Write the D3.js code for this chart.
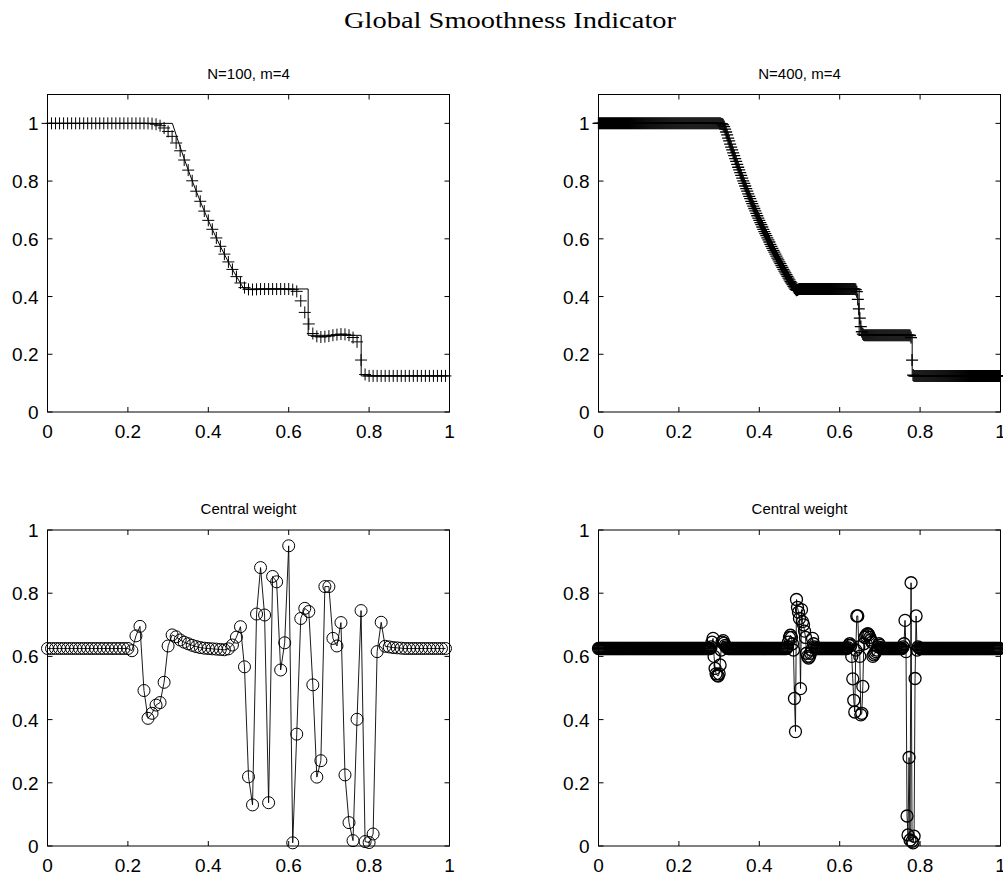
<!DOCTYPE html>
<html>
<head>
<meta charset="utf-8">
<script src="https://cdn.jsdelivr.net/npm/d3@7"></script>
<style>
  html, body { margin: 0; padding: 0; background: #fff; }
  svg { display: block; }
</style>
</head>
<body>
<svg id="fig" width="1003" height="876"></svg>
<script>
// ---- text ----
const figureTitle = "Global Smoothness Indicator";
const panelTitles = ["N=100, m=4", "N=400, m=4", "Central weight", "Central weight"];

// ---- tick values and labels ----
const xTickValues = [0, 0.2, 0.4, 0.6, 0.8, 1];
const xTickLabels = ["0", "0.2", "0.4", "0.6", "0.8", "1"];
const yTickValues = [0, 0.2, 0.4, 0.6, 0.8, 1];
const yTickLabels = ["0", "0.2", "0.4", "0.6", "0.8", "1"];

// ---- exact density profile (Sod tube, t = 0.16) ----
const exactX   = [0, 0.3107, 0.32, 0.33, 0.34, 0.35, 0.36, 0.37, 0.38, 0.39, 0.40, 0.41, 0.42, 0.43, 0.44, 0.45, 0.46, 0.47, 0.48, 0.4888, 0.6484, 0.6484, 0.7803, 0.7803, 1];
const exactRho = [1, 1, 0.9597, 0.9178, 0.8775, 0.8385, 0.8010, 0.7648, 0.7300, 0.6964, 0.6640, 0.6329, 0.6030, 0.5742, 0.5464, 0.5198, 0.4943, 0.4698, 0.4462, 0.4263, 0.4263, 0.2656, 0.2656, 0.125, 0.125];

// ---- computed density, N = 100 (cell i at x = i/N) ----
const rho100 = [
  1, 1, 1, 1, 1, 1, 1, 1, 1, 1, 1, 1, 1, 1, 1, 1, 1, 1, 1, 1,
  1, 1, 1, 1, 1, 1, 0.999, 0.997, 0.992, 0.984, 0.972, 0.955, 0.932, 0.905, 0.873, 0.838, 0.801, 0.765, 0.730, 0.696,
  0.664, 0.633, 0.603, 0.574, 0.547, 0.520, 0.494, 0.469, 0.447, 0.431, 0.425, 0.424, 0.425, 0.426, 0.426, 0.426, 0.426, 0.426, 0.426, 0.426,
  0.426, 0.424, 0.418, 0.385, 0.345, 0.305, 0.272, 0.262, 0.260, 0.261, 0.263, 0.266, 0.268, 0.270, 0.269, 0.266, 0.258, 0.243, 0.180, 0.130,
  0.125, 0.125, 0.125, 0.125, 0.125, 0.125, 0.125, 0.125, 0.125, 0.125, 0.125, 0.125, 0.125, 0.125, 0.125, 0.125, 0.125, 0.125, 0.125, 0.125
];

// ---- computed density, N = 400 ----
const rho400 = [
  1, 1, 1, 1, 1, 1, 1, 1, 1, 1, 1, 1, 1, 1, 1, 1, 1, 1, 1, 1,
  1, 1, 1, 1, 1, 1, 1, 1, 1, 1, 1, 1, 1, 1, 1, 1, 1, 1, 1, 1,
  1, 1, 1, 1, 1, 1, 1, 1, 1, 1, 1, 1, 1, 1, 1, 1, 1, 1, 1, 1,
  1, 1, 1, 1, 1, 1, 1, 1, 1, 1, 1, 1, 1, 1, 1, 1, 1, 1, 1, 1,
  1, 1, 1, 1, 1, 1, 1, 1, 1, 1, 1, 1, 1, 1, 1, 1, 1, 1, 1, 1,
  1, 1, 1, 1, 1, 1, 1, 1, 1, 1, 1, 1, 1, 1, 1, 1, 1, 1, 1, 1,
  1, 1, 0.999, 0.998, 0.995, 0.989, 0.980, 0.970, 0.960, 0.949, 0.939, 0.928, 0.918, 0.908, 0.898, 0.888, 0.878, 0.868, 0.858, 0.848,
  0.839, 0.829, 0.820, 0.810, 0.801, 0.792, 0.783, 0.774, 0.765, 0.756, 0.747, 0.739, 0.730, 0.722, 0.713, 0.705, 0.697, 0.688, 0.680, 0.672,
  0.664, 0.656, 0.649, 0.641, 0.633, 0.625, 0.618, 0.611, 0.603, 0.596, 0.589, 0.581, 0.574, 0.567, 0.560, 0.554, 0.547, 0.540, 0.533, 0.527,
  0.520, 0.514, 0.507, 0.501, 0.494, 0.488, 0.482, 0.476, 0.470, 0.464, 0.458, 0.452, 0.447, 0.441, 0.435, 0.430, 0.425, 0.422, 0.423, 0.425,
  0.426, 0.426, 0.426, 0.426, 0.426, 0.426, 0.426, 0.426, 0.426, 0.426, 0.426, 0.426, 0.426, 0.426, 0.426, 0.426, 0.426, 0.426, 0.426, 0.426,
  0.426, 0.426, 0.426, 0.426, 0.426, 0.426, 0.426, 0.426, 0.426, 0.426, 0.426, 0.426, 0.426, 0.426, 0.426, 0.426, 0.426, 0.426, 0.426, 0.426,
  0.426, 0.426, 0.426, 0.426, 0.426, 0.426, 0.426, 0.426, 0.426, 0.426, 0.426, 0.426, 0.426, 0.426, 0.426, 0.426, 0.424, 0.417, 0.390, 0.357,
  0.325, 0.296, 0.278, 0.270, 0.267, 0.266, 0.266, 0.266, 0.266, 0.266, 0.266, 0.266, 0.266, 0.266, 0.266, 0.266, 0.266, 0.266, 0.266, 0.266,
  0.266, 0.266, 0.266, 0.266, 0.266, 0.266, 0.266, 0.266, 0.266, 0.266, 0.266, 0.266, 0.266, 0.266, 0.266, 0.266, 0.266, 0.266, 0.266, 0.266,
  0.266, 0.266, 0.266, 0.266, 0.266, 0.266, 0.266, 0.266, 0.266, 0.266, 0.265, 0.258, 0.180, 0.128, 0.125, 0.125, 0.125, 0.125, 0.125, 0.125,
  0.125, 0.125, 0.125, 0.125, 0.125, 0.125, 0.125, 0.125, 0.125, 0.125, 0.125, 0.125, 0.125, 0.125, 0.125, 0.125, 0.125, 0.125, 0.125, 0.125,
  0.125, 0.125, 0.125, 0.125, 0.125, 0.125, 0.125, 0.125, 0.125, 0.125, 0.125, 0.125, 0.125, 0.125, 0.125, 0.125, 0.125, 0.125, 0.125, 0.125,
  0.125, 0.125, 0.125, 0.125, 0.125, 0.125, 0.125, 0.125, 0.125, 0.125, 0.125, 0.125, 0.125, 0.125, 0.125, 0.125, 0.125, 0.125, 0.125, 0.125,
  0.125, 0.125, 0.125, 0.125, 0.125, 0.125, 0.125, 0.125, 0.125, 0.125, 0.125, 0.125, 0.125, 0.125, 0.125, 0.125, 0.125, 0.125, 0.125, 0.125
];

// ---- central stencil weight, N = 100 ----
const weight100 = [
  0.625, 0.625, 0.625, 0.625, 0.625, 0.625, 0.625, 0.625, 0.625, 0.625, 0.625, 0.625, 0.625, 0.625, 0.625, 0.625, 0.625, 0.625, 0.625, 0.625,
  0.625, 0.618, 0.665, 0.695, 0.492, 0.404, 0.420, 0.446, 0.454, 0.518, 0.633, 0.668, 0.662, 0.652, 0.645, 0.640, 0.635, 0.631, 0.628, 0.626,
  0.625, 0.624, 0.623, 0.622, 0.621, 0.624, 0.636, 0.661, 0.694, 0.567, 0.219, 0.130, 0.734, 0.881, 0.731, 0.137, 0.853, 0.836, 0.557, 0.643,
  0.950, 0.010, 0.354, 0.720, 0.752, 0.742, 0.510, 0.218, 0.270, 0.821, 0.821, 0.657, 0.633, 0.707, 0.225, 0.074, 0.017, 0.401, 0.745, 0.014,
  0.011, 0.038, 0.615, 0.708, 0.632, 0.630, 0.628, 0.627, 0.626, 0.625, 0.625, 0.625, 0.625, 0.625, 0.625, 0.625, 0.625, 0.625, 0.625, 0.625
];

// ---- central stencil weight, N = 400 ----
const weight400 = [
  0.625, 0.625, 0.625, 0.625, 0.625, 0.625, 0.625, 0.625, 0.625, 0.625, 0.625, 0.625, 0.625, 0.625, 0.625, 0.625, 0.625, 0.625, 0.625, 0.625,
  0.625, 0.625, 0.625, 0.625, 0.625, 0.625, 0.625, 0.625, 0.625, 0.625, 0.625, 0.625, 0.625, 0.625, 0.625, 0.625, 0.625, 0.625, 0.625, 0.625,
  0.625, 0.625, 0.625, 0.625, 0.625, 0.625, 0.625, 0.625, 0.625, 0.625, 0.625, 0.625, 0.625, 0.625, 0.625, 0.625, 0.625, 0.625, 0.625, 0.625,
  0.625, 0.625, 0.625, 0.625, 0.625, 0.625, 0.625, 0.625, 0.625, 0.625, 0.625, 0.625, 0.625, 0.625, 0.625, 0.625, 0.625, 0.625, 0.625, 0.625,
  0.625, 0.625, 0.625, 0.625, 0.625, 0.625, 0.625, 0.625, 0.625, 0.625, 0.625, 0.625, 0.625, 0.625, 0.625, 0.625, 0.625, 0.625, 0.625, 0.625,
  0.625, 0.625, 0.625, 0.625, 0.625, 0.625, 0.625, 0.625, 0.625, 0.625, 0.625, 0.625, 0.630, 0.645, 0.657, 0.600, 0.562, 0.545, 0.540, 0.538,
  0.545, 0.573, 0.620, 0.645, 0.650, 0.642, 0.635, 0.630, 0.627, 0.625, 0.625, 0.625, 0.625, 0.625, 0.625, 0.625, 0.625, 0.625, 0.625, 0.625,
  0.625, 0.625, 0.625, 0.625, 0.625, 0.625, 0.625, 0.625, 0.625, 0.625, 0.625, 0.625, 0.625, 0.625, 0.625, 0.625, 0.625, 0.625, 0.625, 0.625,
  0.625, 0.625, 0.625, 0.625, 0.625, 0.625, 0.625, 0.625, 0.625, 0.625, 0.625, 0.625, 0.625, 0.625, 0.625, 0.625, 0.625, 0.625, 0.625, 0.625,
  0.625, 0.625, 0.625, 0.625, 0.625, 0.625, 0.625, 0.625, 0.630, 0.645, 0.660, 0.667, 0.660, 0.640, 0.620, 0.467, 0.362, 0.780, 0.755, 0.740,
  0.720, 0.498, 0.748, 0.710, 0.700, 0.680, 0.660, 0.610, 0.600, 0.595, 0.600, 0.610, 0.620, 0.657, 0.640, 0.630, 0.627, 0.625, 0.625, 0.625,
  0.625, 0.625, 0.625, 0.625, 0.625, 0.625, 0.625, 0.625, 0.625, 0.625, 0.625, 0.625, 0.625, 0.625, 0.625, 0.625, 0.625, 0.625, 0.625, 0.625,
  0.625, 0.625, 0.625, 0.625, 0.625, 0.625, 0.625, 0.625, 0.628, 0.635, 0.640, 0.635, 0.600, 0.529, 0.461, 0.424, 0.620, 0.728, 0.728, 0.630,
  0.600, 0.415, 0.420, 0.505, 0.640, 0.660, 0.665, 0.670, 0.672, 0.668, 0.660, 0.652, 0.645, 0.600, 0.605, 0.610, 0.615, 0.620, 0.630, 0.640,
  0.635, 0.628, 0.625, 0.625, 0.625, 0.625, 0.625, 0.625, 0.625, 0.625, 0.625, 0.625, 0.625, 0.625, 0.625, 0.625, 0.625, 0.625, 0.625, 0.625,
  0.625, 0.625, 0.625, 0.630, 0.640, 0.714, 0.615, 0.095, 0.035, 0.280, 0.019, 0.833, 0.015, 0.010, 0.031, 0.530, 0.728, 0.620, 0.630, 0.627,
  0.625, 0.625, 0.625, 0.625, 0.625, 0.625, 0.625, 0.625, 0.625, 0.625, 0.625, 0.625, 0.625, 0.625, 0.625, 0.625, 0.625, 0.625, 0.625, 0.625,
  0.625, 0.625, 0.625, 0.625, 0.625, 0.625, 0.625, 0.625, 0.625, 0.625, 0.625, 0.625, 0.625, 0.625, 0.625, 0.625, 0.625, 0.625, 0.625, 0.625,
  0.625, 0.625, 0.625, 0.625, 0.625, 0.625, 0.625, 0.625, 0.625, 0.625, 0.625, 0.625, 0.625, 0.625, 0.625, 0.625, 0.625, 0.625, 0.625, 0.625,
  0.625, 0.625, 0.625, 0.625, 0.625, 0.625, 0.625, 0.625, 0.625, 0.625, 0.625, 0.625, 0.625, 0.625, 0.625, 0.625, 0.625, 0.625, 0.625, 0.625
];

// ---- layout ----
const svg = d3.select("#fig");
const FONT = "'Liberation Sans', Arial, Helvetica, sans-serif";
const TICK_FONT = 19;
const TITLE_FONT = 15;
const TICK_LEN = 5;
const MARK = 6;

svg.append("rect").attr("width", 1003).attr("height", 876).attr("fill", "#fff");

svg.append("text")
  .attr("x", 510).attr("y", 28)
  .attr("text-anchor", "middle")
  .attr("font-family", "'Liberation Serif', 'Times New Roman', serif")
  .attr("font-size", 23)
  .attr("textLength", 332)
  .attr("lengthAdjust", "spacingAndGlyphs")
  .attr("fill", "#000")
  .text(figureTitle);

const panels = [
  { title: panelTitles[0], box: [47.5, 449.5, 94.5, 412], yMax: 1.1, values: rho100, marker: "plus", exact: true, sw: 1 },
  { title: panelTitles[1], box: [598.5, 1000.5, 94.5, 412], yMax: 1.1, values: rho400, marker: "plus", exact: true, sw: 1.3 },
  { title: panelTitles[2], box: [47.5, 449.5, 530, 846], yMax: 1, values: weight100, marker: "circle", exact: false, sw: 1 },
  { title: panelTitles[3], box: [598.5, 1000.5, 530, 846], yMax: 1, values: weight400, marker: "circle", exact: false, sw: 1.3 }
];

panels.forEach(p => {
  const [x0, x1, y0, y1] = p.box;
  const x = d3.scaleLinear().domain([0, 1]).range([x0, x1]);
  const y = d3.scaleLinear().domain([0, p.yMax]).range([y1, y0]);
  const N = p.values.length;
  const cell = d3.scaleLinear().domain([0, N]).range([0, 1]); // cell index -> coordinate
  const g = svg.append("g");

  // axes box with inward ticks on all four sides
  const axes = g.append("g").attr("stroke", "#000").attr("stroke-width", 1).attr("fill", "none");
  axes.append("rect").attr("x", x0).attr("y", y0).attr("width", x1 - x0).attr("height", y1 - y0);

  const yTicks = yTickValues.filter(v => v <= p.yMax);
  xTickValues.forEach(v => {
    const px = x(v);
    axes.append("line").attr("x1", px).attr("x2", px).attr("y1", y1).attr("y2", y1 - TICK_LEN);
    axes.append("line").attr("x1", px).attr("x2", px).attr("y1", y0).attr("y2", y0 + TICK_LEN);
  });
  yTicks.forEach(v => {
    const py = y(v);
    axes.append("line").attr("x1", x0).attr("x2", x0 + TICK_LEN).attr("y1", py).attr("y2", py);
    axes.append("line").attr("x1", x1).attr("x2", x1 - TICK_LEN).attr("y1", py).attr("y2", py);
  });

  // tick labels
  g.selectAll(null).data(xTickValues).enter().append("text")
    .attr("x", d => x(d)).attr("y", y1 + 26)
    .attr("text-anchor", "middle")
    .attr("font-family", FONT).attr("font-size", TICK_FONT).attr("fill", "#000")
    .text((d, i) => xTickLabels[i]);
  g.selectAll(null).data(yTicks).enter().append("text")
    .attr("x", x0 - 9).attr("y", d => y(d) + 7)
    .attr("text-anchor", "end")
    .attr("font-family", FONT).attr("font-size", TICK_FONT).attr("fill", "#000")
    .text(d => yTickLabels[yTickValues.indexOf(d)]);

  // panel title
  g.append("text")
    .attr("x", (x0 + x1) / 2).attr("y", y0 - 16)
    .attr("text-anchor", "middle")
    .attr("font-family", FONT).attr("font-size", TITLE_FONT).attr("fill", "#000")
    .text(p.title);

  // exact solution line
  if (p.exact) {
    const exactPts = exactX.map((v, i) => [v, exactRho[i]]);
    g.append("path")
      .datum(exactPts)
      .attr("fill", "none").attr("stroke", "#000").attr("stroke-width", 1)
      .attr("d", d3.line().x(d => x(d[0])).y(d => y(d[1])));
  }

  const pts = p.values.map((v, i) => [cell(i), v]);

  if (p.marker === "plus") {
    g.append("g").selectAll("path").data(pts).enter().append("path")
      .attr("transform", d => `translate(${x(d[0])},${y(d[1])})`)
      .attr("d", `M${-MARK},0H${MARK}M0,${-MARK}V${MARK}`)
      .attr("stroke", "#000").attr("stroke-width", p.sw).attr("fill", "none");
  } else {
    g.append("path")
      .datum(pts)
      .attr("fill", "none").attr("stroke", "#000").attr("stroke-width", 0.9)
      .attr("d", d3.line().x(d => x(d[0])).y(d => y(d[1])));
    g.append("g").selectAll("circle").data(pts).enter().append("circle")
      .attr("cx", d => x(d[0])).attr("cy", d => y(d[1])).attr("r", MARK)
      .attr("stroke", "#000").attr("stroke-width", p.sw).attr("fill", "none");
  }
});
</script>
</body>
</html>
